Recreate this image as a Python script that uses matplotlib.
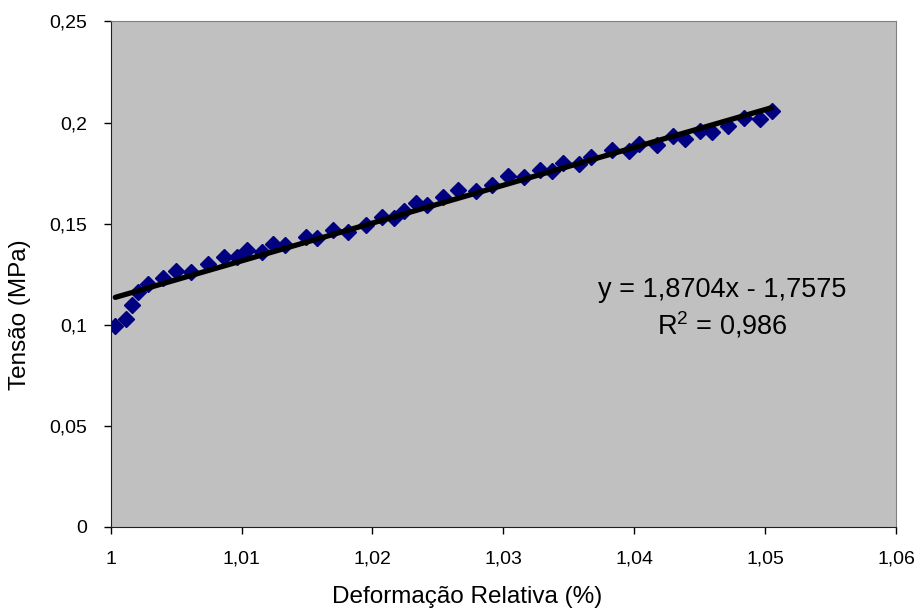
import numpy as np
import matplotlib
matplotlib.use("Agg")
import matplotlib.pyplot as plt
from matplotlib.ticker import FuncFormatter

plt.rcParams['font.family'] = ['Liberation Sans', 'DejaVu Sans']
plt.rcParams['mathtext.fontset'] = 'custom'
plt.rcParams['mathtext.rm'] = 'Liberation Sans'
plt.rcParams['mathtext.it'] = 'Liberation Sans'

# deformacao relativa (%) e tensao (MPa)
deformacao = [1.00035, 1.00119, 1.00163, 1.00209, 1.00285, 1.0040, 1.00497, 1.00616,
              1.00743, 1.00866, 1.00963, 1.01039, 1.01158, 1.01242, 1.01332, 1.01492,
              1.01578, 1.01701, 1.01813, 1.0195, 1.0207, 1.02164, 1.02243, 1.02332,
              1.02419, 1.02541, 1.02653, 1.02788, 1.02911, 1.03037, 1.0316, 1.0328,
              1.03369, 1.03458, 1.0358, 1.03667, 1.03832, 1.0396, 1.04038, 1.04176,
              1.04293, 1.04387, 1.04502, 1.04591, 1.04718, 1.0484, 1.0496, 1.0505]
tensao = [0.0995, 0.1030, 0.1099, 0.1162, 0.1201, 0.1231, 0.1267, 0.1261,
          0.1302, 0.1337, 0.1333, 0.1371, 0.1360, 0.1400, 0.1396, 0.1432,
          0.1429, 0.1470, 0.1460, 0.1495, 0.1533, 0.1528, 0.1564, 0.1602,
          0.1594, 0.1632, 0.1668, 0.1660, 0.1693, 0.1734, 0.1729, 0.1767,
          0.1762, 0.1800, 0.1796, 0.1830, 0.1863, 0.1861, 0.1896, 0.1891,
          0.1932, 0.1919, 0.1957, 0.1954, 0.1982, 0.2023, 0.2020, 0.2059]

# linha de tendencia (Excel)
a, b = 1.8704, -1.7575

fig = plt.figure(figsize=(9.18, 6.13), dpi=100)
ax = fig.add_axes([0.1206, 0.1403, 0.976 - 0.1206, 0.965 - 0.1403])
ax.set_facecolor('#C0C0C0')

ax.plot(deformacao, tensao, linestyle='none', marker='D', markersize=8.5,
        color='#000080', zorder=2)
xt = np.array([min(deformacao), max(deformacao)])
ax.plot(xt, a * xt + b, color='black', linewidth=3.8, solid_capstyle='round', zorder=3)

ax.set_xlim(1.0, 1.06)
ax.set_ylim(0, 0.25)
ax.set_xticks(np.arange(1.0, 1.0601, 0.01))
ax.set_yticks(np.arange(0, 0.2501, 0.05))

def fmt(v, pos):
    s = ('%.4f' % v).rstrip('0').rstrip('.')
    return s.replace('.', ',')

ax.xaxis.set_major_formatter(FuncFormatter(fmt))
ax.yaxis.set_major_formatter(FuncFormatter(fmt))
ax.tick_params(direction='out', length=5, width=1, labelsize=14)
ax.tick_params(axis='x', pad=12)
ax.tick_params(axis='y', pad=12)

for side in ['top', 'right']:
    ax.spines[side].set_color('#808080')
for side in ['left', 'bottom']:
    ax.spines[side].set_color('#202020')

ax.set_xlabel('Deformação Relativa (%)', fontsize=17.5, va='center', ha='center')
ax.set_ylabel('Tensão (MPa)', fontsize=17.5, va='center', ha='center')
ax.xaxis.set_label_coords(0.454, -0.1386)
ax.yaxis.set_label_coords(-0.1155, 0.42)

ax.text(1.0467, 0.1173, 'y = 1,8704x - 1,7575', fontsize=19.5, ha='center', va='center')
ax.text(1.0467, 0.1000, 'R$^2$ = 0,986', fontsize=19.5, ha='center', va='center')

fig.savefig('out.png', dpi=100)
